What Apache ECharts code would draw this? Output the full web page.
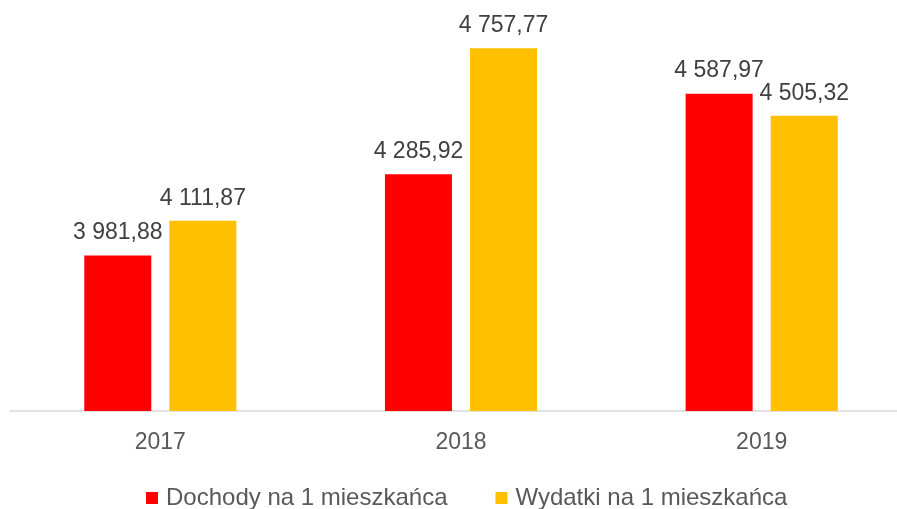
<!DOCTYPE html>
<html>
<head>
<meta charset="utf-8">
<script src="https://cdn.jsdelivr.net/npm/echarts@6/dist/echarts.min.js"></script>
<style>
  html, body { margin: 0; padding: 0; background: #fff; overflow: hidden; }
  #chart { width: 912px; height: 509px; }
</style>
</head>
<body>
<div id="chart"></div>
<script>
const years = ['2017', '2018', '2019']
const dochody = [3981.88, 4285.92, 4587.97]
const wydatki = [4111.87, 4757.77, 4505.32]
const seriesNames = ['Dochody na 1 mieszkańca', 'Wydatki na 1 mieszkańca']

// format liczb po polsku: 4 757,77
const fmt = (v) => {
  const parts = v.toFixed(2).split('.')
  return parts[0].replace(/\B(?=(\d{3})+(?!\d))/g, ' ') + ',' + parts[1]
}

const FONT = 'Liberation Sans, Arial, sans-serif'
const chart = echarts.init(document.getElementById('chart'))

const labelStyle = {
  show: true,
  position: 'top',
  distance: 11,
  fontFamily: FONT,
  fontSize: 23,
  color: '#404040',
  formatter: (p) => fmt(p.value)
}

const option = {
  animation: false,
  grid: { left: 10, right: 0, top: 37, bottom: 98 },
  legend: {
    top: 481,
    left: 141,
    itemWidth: 12,
    itemHeight: 12,
    itemGap: 48,
    icon: 'rect',
    textStyle: { fontFamily: FONT, fontSize: 24, color: '#595959', padding: [0, 0, 0, 3] },
    data: seriesNames
  },
  xAxis: {
    type: 'category',
    data: years,
    axisLine: { lineStyle: { color: '#d9d9d9', width: 1.5 } },
    axisTick: { show: false },
    axisLabel: { margin: 20, fontFamily: FONT, fontSize: 23, color: '#595959' }
  },
  yAxis: {
    type: 'value',
    min: 3400,
    max: 4800,
    show: false,
    splitLine: { show: false }
  },
  series: [
    {
      name: seriesNames[0],
      type: 'bar',
      data: dochody,
      barWidth: 67,
      barGap: '27%',
      itemStyle: { color: '#ff0000' },
      label: labelStyle
    },
    {
      name: seriesNames[1],
      type: 'bar',
      data: wydatki,
      barWidth: 67,
      itemStyle: { color: '#ffc000' },
      label: labelStyle
    }
  ]
}

chart.setOption(option)
</script>
</body>
</html>
